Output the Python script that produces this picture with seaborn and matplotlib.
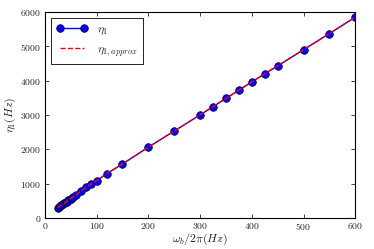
import matplotlib
matplotlib.use("Agg")
import matplotlib.pyplot as plt
import seaborn as sns
import pandas as pd

omega = [25, 27, 30, 32, 35, 37, 40, 42, 45, 47, 50, 52, 55, 60, 70, 80, 90, 100,
         120, 150, 200, 250, 300, 325, 350, 375, 400, 425, 450, 500, 550, 600]
eta1 = [285, 310, 345, 368, 400, 422, 455, 477, 510, 532, 560, 582, 615, 665, 785, 895,
        990, 1085, 1290, 1570, 2060, 2530, 3000, 3240, 3480, 3720, 3960, 4200, 4430,
        4900, 5370, 5850]
eta1_approx = [300, 322, 355, 377, 408, 430, 462, 483, 515, 536, 567, 588, 620, 670, 790,
               898, 993, 1088, 1293, 1572, 2062, 2532, 3002, 3242, 3482, 3722, 3962,
               4202, 4432, 4902, 5372, 5852]

sns.set_style("ticks")
plt.rcParams["font.family"] = ["serif"]
plt.rcParams["font.serif"] = ["cmr10", "DejaVu Serif"]
plt.rcParams["mathtext.fontset"] = "cm"
plt.rcParams["axes.formatter.use_mathtext"] = True

df = pd.DataFrame({"omega": omega, "eta1": eta1, "eta1_approx": eta1_approx})

fig = plt.figure(figsize=(3.74, 2.49), dpi=100)
ax = fig.add_axes([0.12, 0.125, 0.83, 0.827])

sns.lineplot(data=df, x="omega", y="eta1", ax=ax, color="blue", marker="o",
             markersize=5.5, markeredgecolor="#000033", markeredgewidth=0.5,
             linewidth=1.0, label=r"$\eta_1$", zorder=2)
sns.lineplot(data=df, x="omega", y="eta1_approx", ax=ax, color="red",
             linestyle="--", linewidth=1.0, label=r"$\eta_{1,approx}$", zorder=3)

ax.set_xlim(0, 600)
ax.set_ylim(0, 6000)
ax.set_xticks(range(0, 601, 100))
ax.set_yticks(range(0, 6001, 1000))
ax.tick_params(direction="in", top=True, right=True, labelsize=7, length=3,
               width=0.6, pad=2.5)
for s in ax.spines.values():
    s.set_linewidth(0.8)
    s.set_color("black")
ax.set_xlabel(r"$\omega_b/2\pi(Hz)$", fontsize=8.5, labelpad=-0.5)
ax.set_ylabel(r"$\eta_1(Hz)$", fontsize=8.5, labelpad=2)

leg = ax.legend(loc="upper left", fontsize=8.5, numpoints=2, fancybox=False,
                edgecolor="black", framealpha=1, handlelength=2.6,
                borderpad=0.5, labelspacing=0.6)
leg.get_frame().set_linewidth(0.6)

fig.savefig("out.png", dpi=100)
